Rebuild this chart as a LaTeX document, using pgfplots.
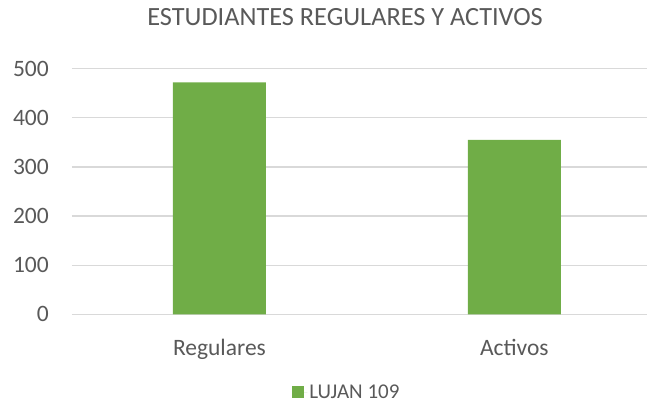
\documentclass[border=0pt]{standalone}
\usepackage{pgfplots}
\pgfplotsset{compat=1.18}
\usepackage{fontspec}
\setmainfont{Carlito}
\definecolor{barg}{HTML}{70AD47}
\definecolor{txt}{HTML}{595959}
\definecolor{gridc}{HTML}{D9D9D9}
\begin{document}
\begin{tikzpicture}
\useasboundingbox (-72bp,-89.7bp) rectangle (575bp,314.3bp);
\begin{axis}[
  scale only axis,
  width=575bp, height=245.6bp,
  xmin=-0.5, xmax=1.45,
  ymin=0, ymax=500,
  ytick={0,100,200,300,400,500},
  xtick={0,1},
  xticklabels={Regulares,Activos},
  ymajorgrids,
  grid style={gridc, line width=1.2bp},
  axis line style={draw=none},
  major tick length=0pt,
  /pgf/number format/assume math mode=true,
  ticklabel style={font=\fontsize{23.5bp}{26bp}\selectfont, text=txt},
  yticklabel style={anchor=east, inner sep=0pt, xshift=-23bp},
  xticklabel style={anchor=base, inner sep=0pt, yshift=-40.7bp},
  title={ESTUDIANTES REGULARES Y ACTIVOS},
  title style={at={(0.475,1)}, anchor=base, yshift=37.7bp, inner sep=0pt, font=\fontsize{26.3bp}{30bp}\selectfont, text=txt},
  legend style={at={(0.478,-0.318)}, anchor=center, draw=none, fill=none, inner sep=0pt, font=\fontsize{21bp}{23bp}\selectfont, text=txt},
  legend image code/.code={\fill[barg] (0bp,-6bp) rectangle (12bp,6bp); \path (0bp,0bp) -- (15bp,0bp);},
  legend cell align=left,
]
\draw[gridc, line width=1.2bp] (axis cs:-0.5,0) -- (axis cs:1.45,0);
\addplot[ybar, bar width=0.315, fill=barg, draw=none] coordinates {(0,472) (1,355)};
\addlegendentry{LUJAN 109}
\end{axis}
\end{tikzpicture}
\end{document}
